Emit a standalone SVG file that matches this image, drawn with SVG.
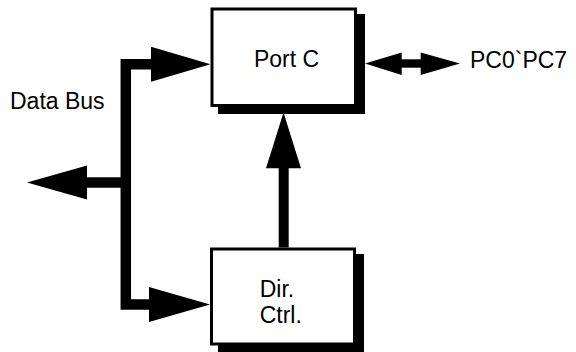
<svg xmlns="http://www.w3.org/2000/svg" width="576" height="352" viewBox="0 0 576 352">
<style>
  .box{fill:#fff;stroke:#000;stroke-width:3}
  .shadow{fill:#000}
  .lbl{font-family:"Liberation Sans",Arial,Helvetica,sans-serif;font-size:23px;fill:#000}
  .bus{fill:none;stroke:#000;stroke-width:10.5;stroke-linejoin:miter;stroke-linecap:butt}
  .head{fill:#000}
</style>
<rect width="576" height="352" fill="#fff"/>
<g id="connectors">
  <path class="bus" d="M151 64.2 H125.8 V304.5 H149"/>
  <path class="bus" d="M125.8 182.5 H87"/>
  <polygon class="head" points="151,46.7 210.5,64.2 151,81.7"/>
  <polygon class="head" points="149,287 210,304.5 149,322"/>
  <polygon class="head" points="87,165.5 27,182.5 87,199.5"/>
  <path class="bus" d="M283.7 247.5 V167" style="stroke-width:10"/>
  <polygon class="head" points="266,168.3 283.5,112.5 301,168.3"/>
  <path class="bus" d="M401 63.5 H421.5" style="stroke-width:8.4"/>
  <polygon class="head" points="401.7,52.5 365,63.5 401.7,75"/>
  <polygon class="head" points="420.7,52.5 460,63.5 420.7,75"/>
</g>
<g id="port-c">
  <rect class="shadow" x="218" y="14" width="147" height="100"/>
  <rect class="box" x="212" y="9" width="143.5" height="96.5"/>
  <text class="lbl" x="286.5" y="66.7" text-anchor="middle">Port C</text>
</g>
<g id="dir-ctrl">
  <rect class="shadow" x="218" y="254" width="146" height="98"/>
  <rect class="box" x="211.5" y="249" width="143" height="95"/>
  <text class="lbl" x="259.7" y="296.7">Dir.</text>
  <text class="lbl" x="259.7" y="323.3">Ctrl.</text>
</g>
<g id="data-bus-label">
  <text class="lbl" x="10" y="109.3">Data Bus</text>
</g>
<g id="pc-label">
  <text class="lbl" x="470" y="67.7">PC0`PC7</text>
</g>
</svg>
